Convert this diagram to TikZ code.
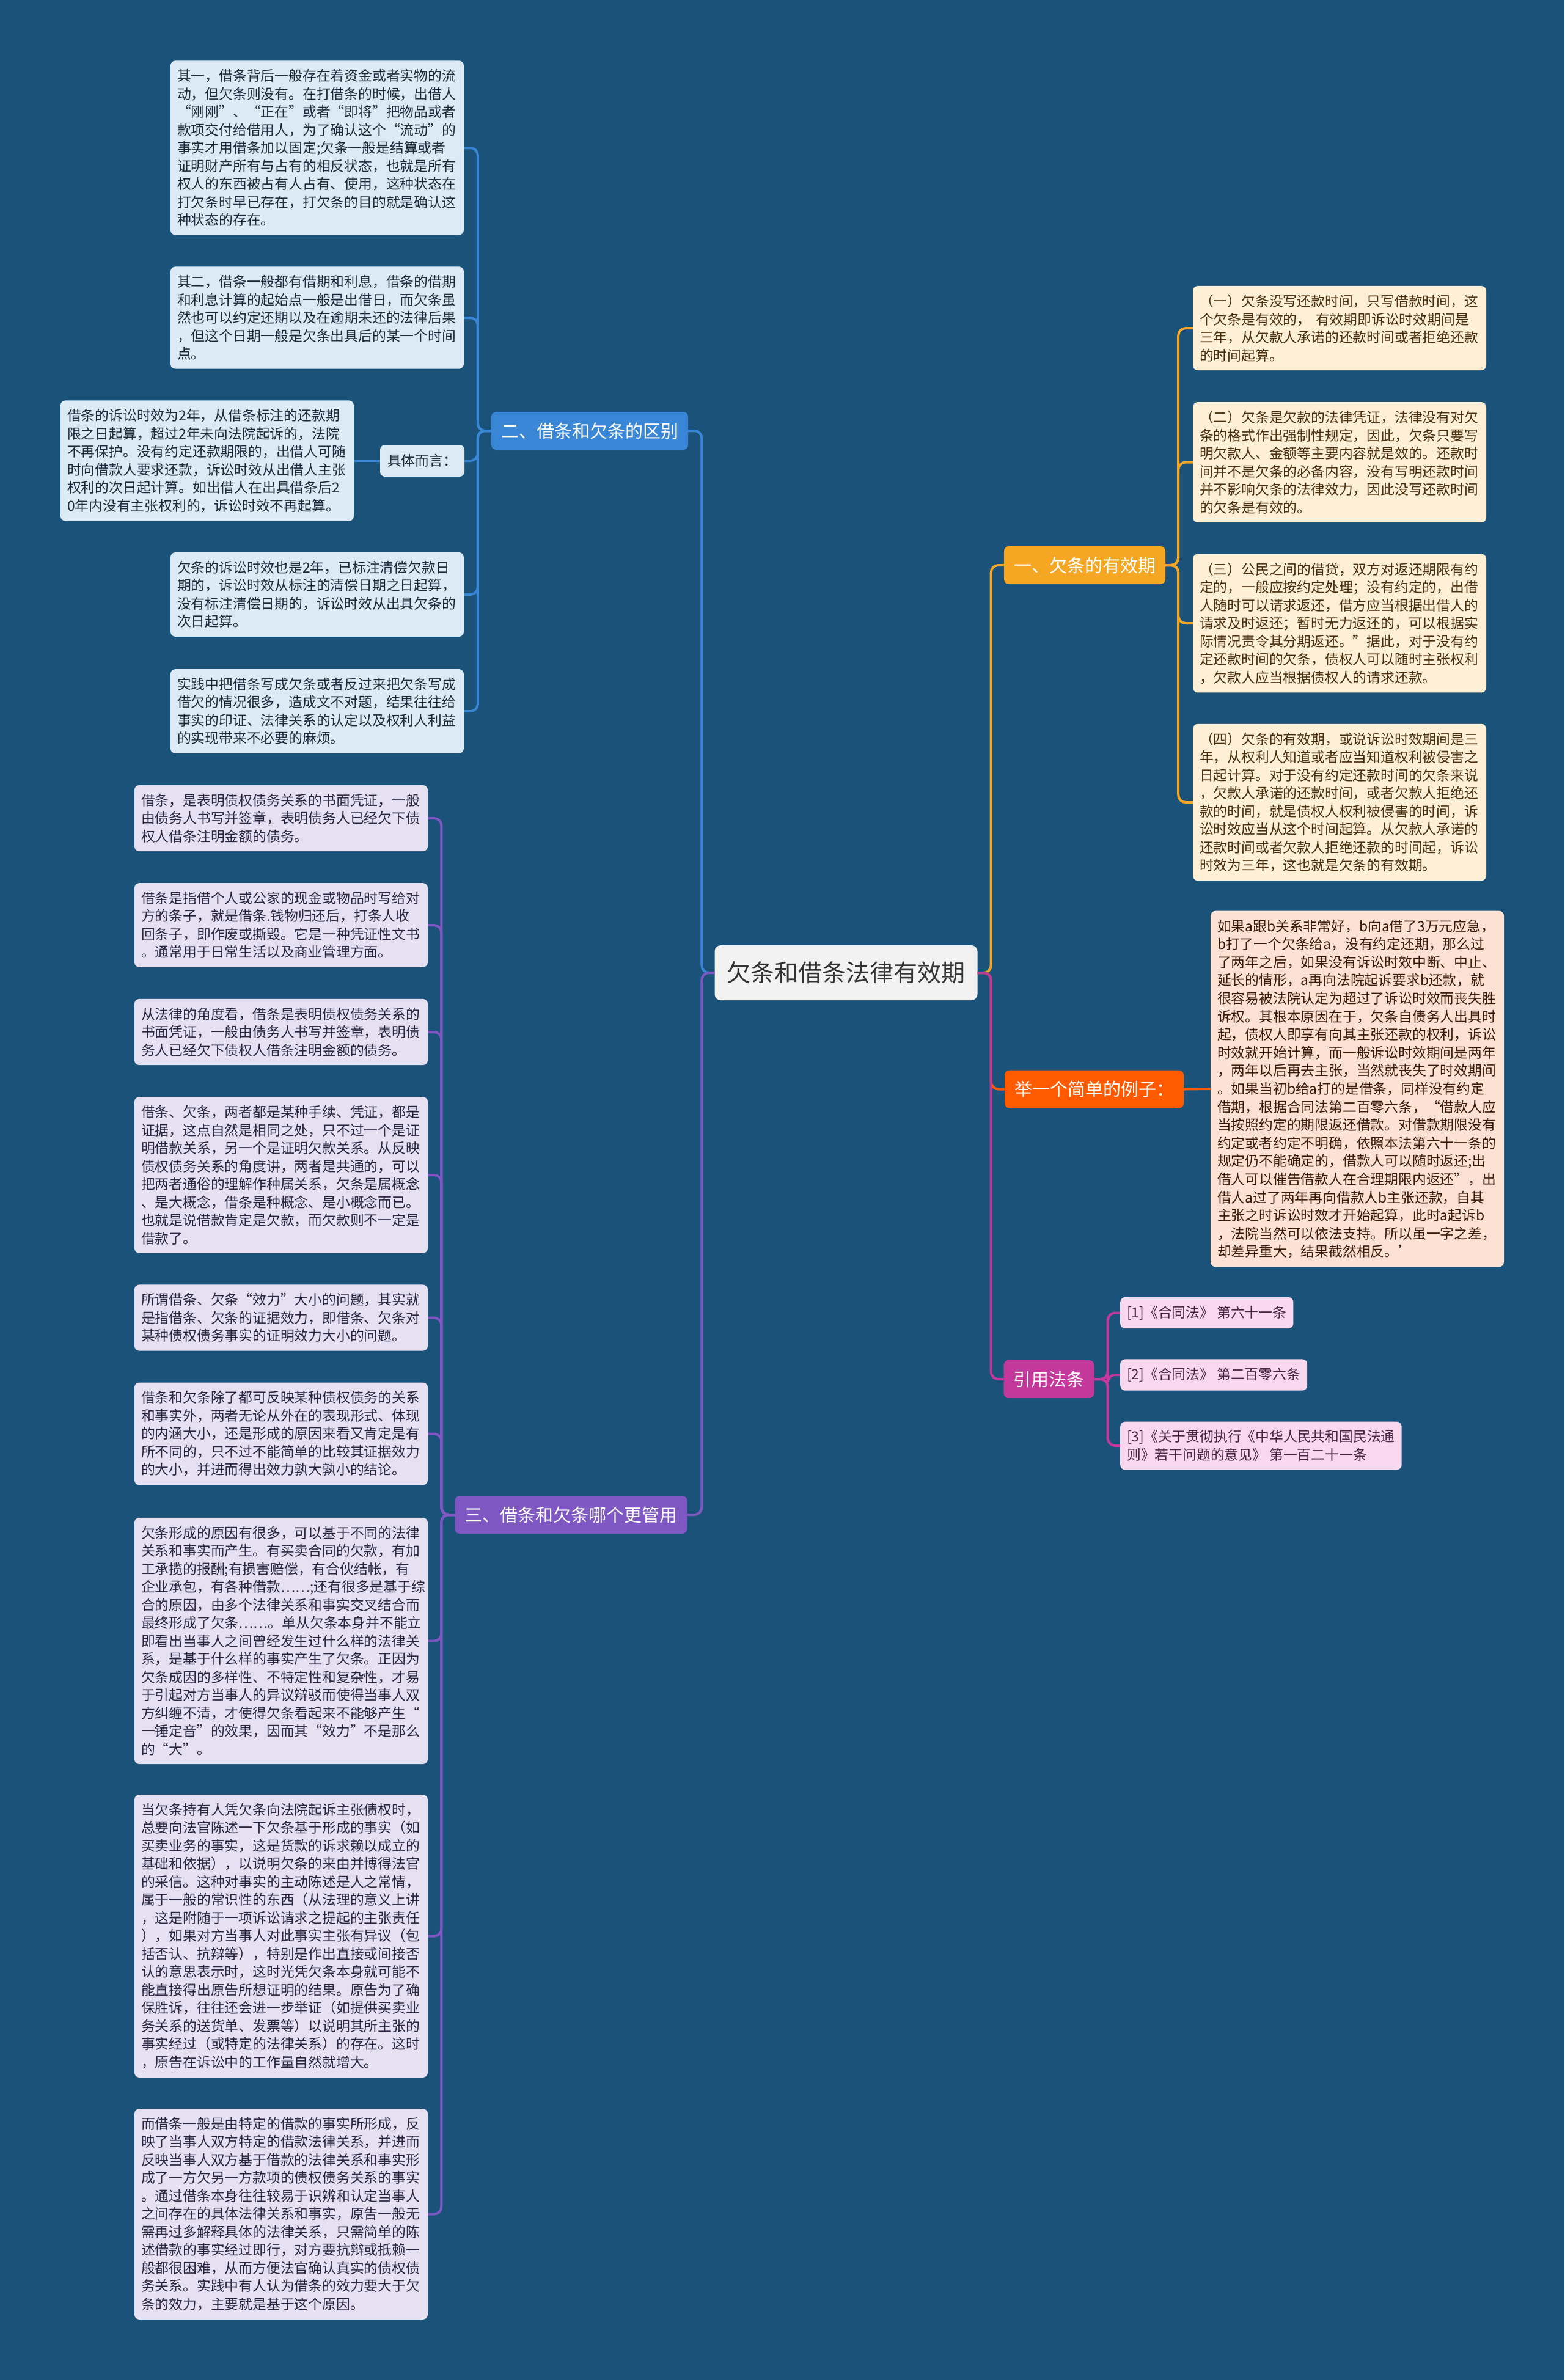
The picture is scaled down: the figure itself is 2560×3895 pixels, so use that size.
\documentclass[tikz,border=0pt]{standalone}
\usepackage{fontspec}
\setmainfont{Noto Sans CJK SC}
\definecolor{bg}{HTML}{1B5279}
\definecolor{cblue}{HTML}{3A86D6}
\definecolor{cpurple}{HTML}{7E57C2}
\definecolor{cyellow}{HTML}{F5A623}
\definecolor{corange}{HTML}{FF5A00}
\definecolor{cmag}{HTML}{C2389B}
\definecolor{fblue}{HTML}{DCEAF6}
\definecolor{fpurple}{HTML}{E5E1F2}
\definecolor{fyellow}{HTML}{FDF0D6}
\definecolor{forange}{HTML}{FDE2D3}
\definecolor{fmag}{HTML}{F8D8EE}
\definecolor{tblue}{HTML}{1C2B3A}
\definecolor{tpurple}{HTML}{2A2540}
\definecolor{tyellow}{HTML}{4A2E0E}
\definecolor{torange}{HTML}{3A1A0A}
\definecolor{tmag}{HTML}{4B2445}
\definecolor{fcenter}{HTML}{F2F2F2}
\tikzset{
  leafbox/.style={rounded corners=8pt, inner xsep=11pt, inner ysep=14pt, text width=458pt, align=left, font=\fontsize{22.8}{29.5}\selectfont},
  bleaf/.style={leafbox, fill=fblue, text=tblue},
  pleaf/.style={leafbox, fill=fpurple, text=tpurple},
  yleaf/.style={leafbox, fill=fyellow, text=tyellow},
  oleaf/.style={leafbox, fill=forange, text=torange, font=\fontsize{22.8}{29.6}\selectfont},
  mleaf/.style={rounded corners=8pt, inner xsep=11pt, inner ysep=14pt, align=left, fill=fmag, text=tmag, font=\fontsize{22.8}{29.5}\selectfont},
  secbox/.style={rounded corners=8pt, inner xsep=16pt, minimum height=62pt, text=white, font=\fontsize{29}{34}\selectfont},
  conn/.style={line width=4pt, rounded corners=12pt},
}
\begin{document}
\begin{tikzpicture}[x=1pt,y=-1pt]
\fill[bg] (0,0) rectangle (2560,3895);
\useasboundingbox (0,0) rectangle (2560,3895);

% center
\node[rounded corners=10pt, fill=fcenter, text=black!80, inner xsep=20pt, minimum height=90pt, font=\fontsize{39}{44}\selectfont] (c) at (1384.5,1592) {欠条和借条法律有效期};

% section nodes
\node[secbox, fill=cyellow] (s1) at (1775,925) {一、欠条的有效期};
\node[secbox, fill=cblue] (s2) at (965,705) {二、借条和欠条的区别};
\node[secbox, fill=cpurple] (s3) at (934.5,2479) {三、借条和欠条哪个更管用};
\node[secbox, fill=corange] (s4) at (1790.5,1782.5) {举一个简单的例子：};
\node[secbox, fill=cmag] (s5) at (1716.5,2257) {引用法条};

% yellow leaves
\node[yleaf] (y1) at (2192,537) {（一）欠条没写还款时间，只写借款时间，这\\个欠条是有效的， 有效期即诉讼时效期间是\\三年，从欠款人承诺的还款时间或者拒绝还款\\的时间起算。};
\node[yleaf] (y2) at (2192,756.5) {（二）欠条是欠款的法律凭证，法律没有对欠\\条的格式作出强制性规定，因此，欠条只要写\\明欠款人、金额等主要内容就是效的。还款时\\间并不是欠条的必备内容，没有写明还款时间\\并不影响欠条的法律效力，因此没写还款时间\\的欠条是有效的。};
\node[yleaf] (y3) at (2192,1020) {（三）公民之间的借贷，双方对返还期限有约\\定的，一般应按约定处理；没有约定的，出借\\人随时可以请求返还，借方应当根据出借人的\\请求及时返还；暂时无力返还的，可以根据实\\际情况责令其分期返还。”据此，对于没有约\\定还款时间的欠条，债权人可以随时主张权利\\，欠款人应当根据债权人的请求还款。};
\node[yleaf] (y4) at (2192,1313) {（四）欠条的有效期，或说诉讼时效期间是三\\年，从权利人知道或者应当知道权利被侵害之\\日起计算。对于没有约定还款时间的欠条来说\\，欠款人承诺的还款时间，或者欠款人拒绝还\\款的时间，就是债权人权利被侵害的时间，诉\\讼时效应当从这个时间起算。从欠款人承诺的\\还款时间或者欠款人拒绝还款的时间起，诉讼\\时效为三年，这也就是欠条的有效期。};

% example
\node[oleaf] (ex) at (2221,1782) {如果a跟b关系非常好，b向a借了3万元应急，\\b打了一个欠条给a，没有约定还期，那么过\\了两年之后，如果没有诉讼时效中断、中止、\\延长的情形，a再向法院起诉要求b还款，就\\很容易被法院认定为超过了诉讼时效而丧失胜\\诉权。其根本原因在于，欠条自债务人出具时\\起，债权人即享有向其主张还款的权利，诉讼\\时效就开始计算，而一般诉讼时效期间是两年\\，两年以后再去主张，当然就丧失了时效期间\\。如果当初b给a打的是借条，同样没有约定\\借期，根据合同法第二百零六条，“借款人应\\当按照约定的期限返还借款。对借款期限没有\\约定或者约定不明确，依照本法第六十一条的\\规定仍不能确定的，借款人可以随时返还;出\\借人可以催告借款人在合理期限内返还”，出\\借人a过了两年再向借款人b主张还款，自其\\主张之时诉讼时效才开始起算，此时a起诉b\\，法院当然可以依法支持。所以虽一字之差，\\却差异重大，结果截然相反。’};

% citations
\node[mleaf, anchor=west] (r1) at (1833,2148.5) {[1]《合同法》 第六十一条};
\node[mleaf, anchor=west] (r2) at (1833,2250) {[2]《合同法》 第二百零六条};
\node[mleaf, anchor=west] (r3) at (1833,2366) {[3]《关于贯彻执行《中华人民共和国民法通\\则》若干问题的意见》 第一百二十一条};

% blue leaves
\node[bleaf] (b1) at (519,242) {其一，借条背后一般存在着资金或者实物的流\\动，但欠条则没有。在打借条的时候，出借人\\“刚刚”、“正在”或者“即将”把物品或者\\款项交付给借用人，为了确认这个“流动”的\\事实才用借条加以固定;欠条一般是结算或者\\证明财产所有与占有的相反状态，也就是所有\\权人的东西被占有人占有、使用，这种状态在\\打欠条时早已存在，打欠条的目的就是确认这\\种状态的存在。};
\node[bleaf] (b2) at (519,520) {其二，借条一般都有借期和利息，借条的借期\\和利息计算的起始点一般是出借日，而欠条虽\\然也可以约定还期以及在逾期未还的法律后果\\，但这个日期一般是欠条出具后的某一个时间\\点。};
\node[rounded corners=8pt, fill=fblue, text=tblue, inner xsep=12pt, minimum height=52pt, font=\fontsize{22.8}{29.5}\selectfont] (bk) at (691,754) {具体而言：};
\node[bleaf] (bs) at (339,754) {借条的诉讼时效为2年，从借条标注的还款期\\限之日起算，超过2年未向法院起诉的，法院\\不再保护。没有约定还款期限的，出借人可随\\时向借款人要求还款，诉讼时效从出借人主张\\权利的次日起计算。如出借人在出具借条后2\\0年内没有主张权利的，诉讼时效不再起算。};
\node[bleaf] (b3) at (519,973) {欠条的诉讼时效也是2年，已标注清偿欠款日\\期的，诉讼时效从标注的清偿日期之日起算，\\没有标注清偿日期的，诉讼时效从出具欠条的\\次日起算。};
\node[bleaf] (b4) at (519,1164) {实践中把借条写成欠条或者反过来把欠条写成\\借欠的情况很多，造成文不对题，结果往往给\\事实的印证、法律关系的认定以及权利人利益\\的实现带来不必要的麻烦。};

% purple leaves
\node[pleaf] (p1) at (460,1339) {借条，是表明债权债务关系的书面凭证，一般\\由债务人书写并签章，表明债务人已经欠下债\\权人借条注明金额的债务。};
\node[pleaf] (p2) at (460,1514) {借条是指借个人或公家的现金或物品时写给对\\方的条子，就是借条.钱物归还后，打条人收\\回条子，即作废或撕毁。它是一种凭证性文书\\。通常用于日常生活以及商业管理方面。};
\node[pleaf] (p3) at (460,1689) {从法律的角度看，借条是表明债权债务关系的\\书面凭证，一般由债务人书写并签章，表明债\\务人已经欠下债权人借条注明金额的债务。};
\node[pleaf] (p4) at (460,1923) {借条、欠条，两者都是某种手续、凭证，都是\\证据，这点自然是相同之处，只不过一个是证\\明借款关系，另一个是证明欠款关系。从反映\\债权债务关系的角度讲，两者是共通的，可以\\把两者通俗的理解作种属关系，欠条是属概念\\、是大概念，借条是种概念、是小概念而已。\\也就是说借款肯定是欠款，而欠款则不一定是\\借款了。};
\node[pleaf] (p5) at (460,2156.5) {所谓借条、欠条“效力”大小的问题，其实就\\是指借条、欠条的证据效力，即借条、欠条对\\某种债权债务事实的证明效力大小的问题。};
\node[pleaf] (p6) at (460,2346.5) {借条和欠条除了都可反映某种债权债务的关系\\和事实外，两者无论从外在的表现形式、体现\\的内涵大小，还是形成的原因来看又肯定是有\\所不同的，只不过不能简单的比较其证据效力\\的大小，并进而得出效力孰大孰小的结论。};
\node[pleaf] (p7) at (460,2685.5) {欠条形成的原因有很多，可以基于不同的法律\\关系和事实而产生。有买卖合同的欠款，有加\\工承揽的报酬;有损害赔偿，有合伙结帐，有\\企业承包，有各种借款……;还有很多是基于综\\合的原因，由多个法律关系和事实交叉结合而\\最终形成了欠条……。单从欠条本身并不能立\\即看出当事人之间曾经发生过什么样的法律关\\系，是基于什么样的事实产生了欠条。正因为\\欠条成因的多样性、不特定性和复杂性，才易\\于引起对方当事人的异议辩驳而使得当事人双\\方纠缠不清，才使得欠条看起来不能够产生“\\一锤定音”的效果，因而其“效力”不是那么\\的“大”。};
\node[pleaf] (p8) at (460,3168.5) {当欠条持有人凭欠条向法院起诉主张债权时，\\总要向法官陈述一下欠条基于形成的事实（如\\买卖业务的事实，这是货款的诉求赖以成立的\\基础和依据），以说明欠条的来由并博得法官\\的采信。这种对事实的主动陈述是人之常情，\\属于一般的常识性的东西（从法理的意义上讲\\，这是附随于一项诉讼请求之提起的主张责任\\），如果对方当事人对此事实主张有异议（包\\括否认、抗辩等），特别是作出直接或间接否\\认的意思表示时，这时光凭欠条本身就可能不\\能直接得出原告所想证明的结果。原告为了确\\保胜诉，往往还会进一步举证（如提供买卖业\\务关系的送货单、发票等）以说明其所主张的\\事实经过（或特定的法律关系）的存在。这时\\，原告在诉讼中的工作量自然就增大。};
\node[pleaf] (p9) at (460,3623.5) {而借条一般是由特定的借款的事实所形成，反\\映了当事人双方特定的借款法律关系，并进而\\反映当事人双方基于借款的法律关系和事实形\\成了一方欠另一方款项的债权债务关系的事实\\。通过借条本身往往较易于识辨和认定当事人\\之间存在的具体法律关系和事实，原告一般无\\需再过多解释具体的法律关系，只需简单的陈\\述借款的事实经过即行，对方要抗辩或抵赖一\\般都很困难，从而方便法官确认真实的债权债\\务关系。实践中有人认为借条的效力要大于欠\\条的效力，主要就是基于这个原因。};

% connectors: center to sections
\draw[conn, cblue] (c.west) -- ++(-21,0) |- (s2.east);
\draw[conn, cpurple] (c.west) -- ++(-21,0) |- (s3.east);
\draw[conn, cyellow] (c.east) -- ++(22,0) |- (s1.west);
\draw[conn, corange] (c.east) -- ++(22,0) |- (s4.west);
\draw[conn, cmag] (c.east) -- ++(22,0) |- (s5.west);

% yellow
\foreach \n in {y1,y2,y3,y4} \draw[conn, cyellow] (s1.east) -- ++(21,0) |- (\n.west);
% orange
\draw[conn, corange] (s4.east) -- (ex.west);
% magenta
\foreach \n in {r1,r2,r3} \draw[conn, cmag] (s5.east) -- ++(22,0) |- (\n.west);
% blue
\foreach \n in {b1,b2,bk,b3,b4} \draw[conn, cblue] (s2.west) -- ++(-22,0) |- (\n.east);
\draw[conn, cblue] (bk.west) -- (bs.east);
% purple
\foreach \n in {p1,p2,p3,p4,p5,p6,p7,p8,p9} \draw[conn, cpurple] (s3.west) -- ++(-22,0) |- (\n.east);
\end{tikzpicture}
\end{document}
